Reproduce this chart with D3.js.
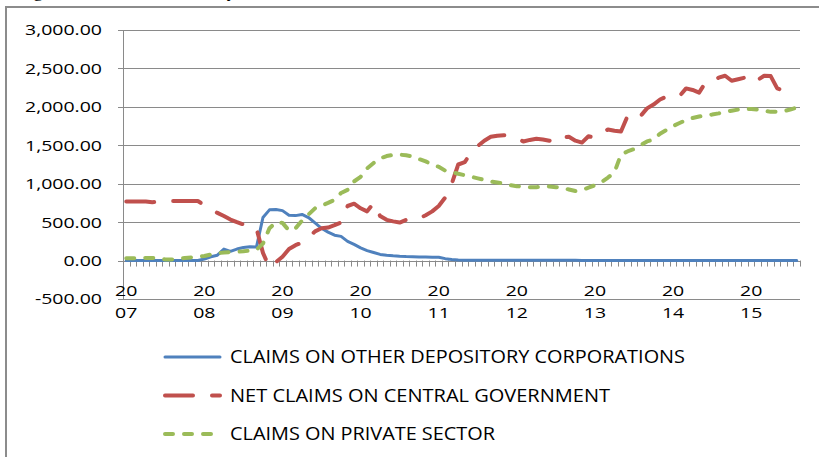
<!DOCTYPE html>
<html>
<head>
<meta charset="utf-8">
<script src="https://cdn.jsdelivr.net/npm/d3@7"></script>
<style>
  body { margin: 0; background: #fff; }
  svg { display: block; }
  text { font-family: "Open Sans", sans-serif; fill: #000; }
</style>
</head>
<body>
<svg width="819" height="457"></svg>
<script>
// years on the category axis, monthly data Jan 2007 - Aug 2015
var years = ["2007","2008","2009","2010","2011","2012","2013","2014","2015"];
var months = [];
years.forEach(function(y) {
  for (var m = 1; m <= 12; m++) months.push(y + "-" + (m < 10 ? "0" + m : m));
});
months = months.slice(0, 104);

var yTicks = [-500, 0, 500, 1000, 1500, 2000, 2500, 3000];

var otherDepository = [
  0,0,0,0,0,0,0,0,0,0,0,0,
  20,50,70,150,120,150,170,180,175,560,660,665,
  650,590,585,600,560,490,420,370,330,315,250,210,
  165,130,105,80,70,62,56,52,50,48,46,44,
  43,25,15,8,5,5,5,4,4,4,4,3,
  3,3,3,3,3,3,3,3,3,3,2,2,
  0,0,0,0,0,0,0,0,0,0,0,0,
  0,0,0,0,0,0,0,0,0,0,0,0,
  0,0,0,0,0,0,0,0
];
var centralGov = [
  770,770,770,770,760,765,775,775,775,775,775,775,
  720,680,620,580,534,500,470,445,420,100,-90,-20,
  50,150,200,234,300,380,420,430,460,495,710,740,
  680,640,750,580,530,510,495,530,560,550,590,640,
  710,820,1000,1250,1280,1410,1490,1560,1610,1625,1630,1628,
  1590,1550,1570,1584,1575,1560,1535,1600,1610,1560,1535,1618,
  1597,1650,1706,1690,1680,1879,1840,1880,1980,2030,2096,2135,
  2125,2140,2240,2220,2185,2320,2330,2380,2405,2340,2360,2380,
  2310,2350,2405,2400,2240,2210,2227,2260
];
var privateSector = [
  30,30,30,35,35,25,15,15,20,35,40,50,
  60,80,95,105,110,115,120,130,140,220,420,500,
  490,390,420,520,600,680,715,750,790,880,920,1030,
  1090,1200,1270,1330,1360,1375,1378,1370,1355,1320,1290,1250,
  1220,1170,1150,1130,1110,1090,1070,1050,1030,1015,1000,980,
  968,960,955,955,960,965,955,945,925,905,915,950,
  980,1020,1080,1150,1380,1420,1450,1500,1550,1575,1650,1700,
  1750,1790,1830,1855,1875,1890,1900,1915,1935,1950,1965,1975,
  1972,1966,1950,1935,1935,1944,1965,1990
];

var seriesNames = ["CLAIMS ON OTHER DEPOSITORY CORPORATIONS","NET CLAIMS ON CENTRAL GOVERNMENT","CLAIMS ON PRIVATE SECTOR"];
var colors = ["#4f81bd","#c0504d","#9bbb59"];
var dashes = [null, "28,19", "8,11"];
var widths = [3, 4, 4];
var legendWidths = [455, 380, 265];

var svg = d3.select("svg"),
    margin = {top: 30, right: 19, bottom: 158, left: 123},
    width = 819 - margin.left - margin.right,
    height = 457 - margin.top - margin.bottom;

// frame and the title line above it, cut off at the top like the source
svg.append("text")
    .attr("x", 18).attr("y", -3)
    .style("font-family", "'Liberation Serif', serif")
    .style("font-size", "18.5px")
    .text("Figure 2: Trends in Monetary Authorities' Claims on the Domestic Sectors, 2007 \u2013 2015");

svg.append("path")
    .attr("d", "M6,457V7H819")
    .attr("fill", "none")
    .attr("stroke", "#8c8c8c")
    .attr("stroke-width", 2);

var g = svg.append("g").attr("transform", "translate(" + margin.left + "," + margin.top + ")");

var x = d3.scaleBand().domain(months).range([0, width]);
var y = d3.scaleLinear().domain([-500, 3000]).range([height, 0]);

// gridlines
g.append("g")
  .selectAll("line")
  .data(yTicks)
  .enter().append("line")
    .attr("x1", -5).attr("x2", width)
    .attr("y1", function(d) { return Math.round(y(d)) + 0.5; })
    .attr("y2", function(d) { return Math.round(y(d)) + 0.5; })
    .attr("stroke", "#8a8a8a");

g.append("line")
    .attr("x1", 0.5).attr("x2", 0.5)
    .attr("y1", y(3000)).attr("y2", y(-500))
    .attr("stroke", "#8a8a8a");

// y labels (stretched like the source)
g.append("g")
  .selectAll("text")
  .data(yTicks)
  .enter().append("text")
    .attr("transform", function(d) { return "translate(-21," + y(d) + ") scale(1.3,1)"; })
    .attr("dy", "0.36em")
    .attr("text-anchor", "end")
    .style("font-size", "15px")
    .text(function(d) { return d3.format(",.2f")(d).replace("\u2212", "-"); });

// month ticks on the zero line
var bounds = months.map(function(m) { return x(m); }).concat([width]);
g.append("g")
  .selectAll("line")
  .data(bounds)
  .enter().append("line")
    .attr("x1", function(d) { return Math.round(d) + 0.5; })
    .attr("x2", function(d) { return Math.round(d) + 0.5; })
    .attr("y1", y(0)).attr("y2", y(0) + 6)
    .attr("stroke", "#8a8a8a");

// year labels, split in two lines
var yl = g.append("g")
  .selectAll("g")
  .data(years)
  .enter().append("g")
    .attr("transform", function(d) { return "translate(" + (x(d + "-01") + x.bandwidth() / 2) + "," + y(-500) + ")"; });
yl.append("text")
    .attr("transform", "translate(0,-3) scale(1.3,1)")
    .attr("text-anchor", "middle")
    .style("font-size", "15px")
    .text(function(d) { return d.slice(0, 2); });
yl.append("text")
    .attr("transform", "translate(0,19) scale(1.3,1)")
    .attr("text-anchor", "middle")
    .style("font-size", "15px")
    .text(function(d) { return d.slice(2); });

var line = d3.line()
    .x(function(d, i) { return x(months[i]) + x.bandwidth() / 2; })
    .y(function(d) { return y(d); });

[otherDepository, centralGov, privateSector].forEach(function(s, k) {
  g.append("path")
    .datum(s)
    .attr("fill", "none")
    .attr("stroke", colors[k])
    .attr("stroke-width", widths[k])
    .attr("stroke-linecap", "round")
    .attr("stroke-linejoin", "round")
    .attr("stroke-dasharray", dashes[k])
    .attr("d", line);
});

// legend
var legend = svg.append("g")
  .selectAll("g")
  .data(seriesNames)
  .enter().append("g")
    .attr("transform", function(d, i) { return "translate(0," + (357 + i * 38.5) + ")"; });

legend.append("line")
    .attr("x1", 165).attr("x2", 220)
    .attr("stroke", function(d, i) { return colors[i]; })
    .attr("stroke-width", function(d, i) { return widths[i]; })
    .attr("stroke-linecap", "round")
    .attr("stroke-dasharray", function(d, i) { return dashes[i]; });

legend.append("text")
    .attr("x", 230)
    .attr("dy", "0.36em")
    .attr("textLength", function(d, i) { return legendWidths[i]; })
    .attr("lengthAdjust", "spacingAndGlyphs")
    .style("font-size", "18px")
    .text(function(d) { return d; });
</script>
</body>
</html>
